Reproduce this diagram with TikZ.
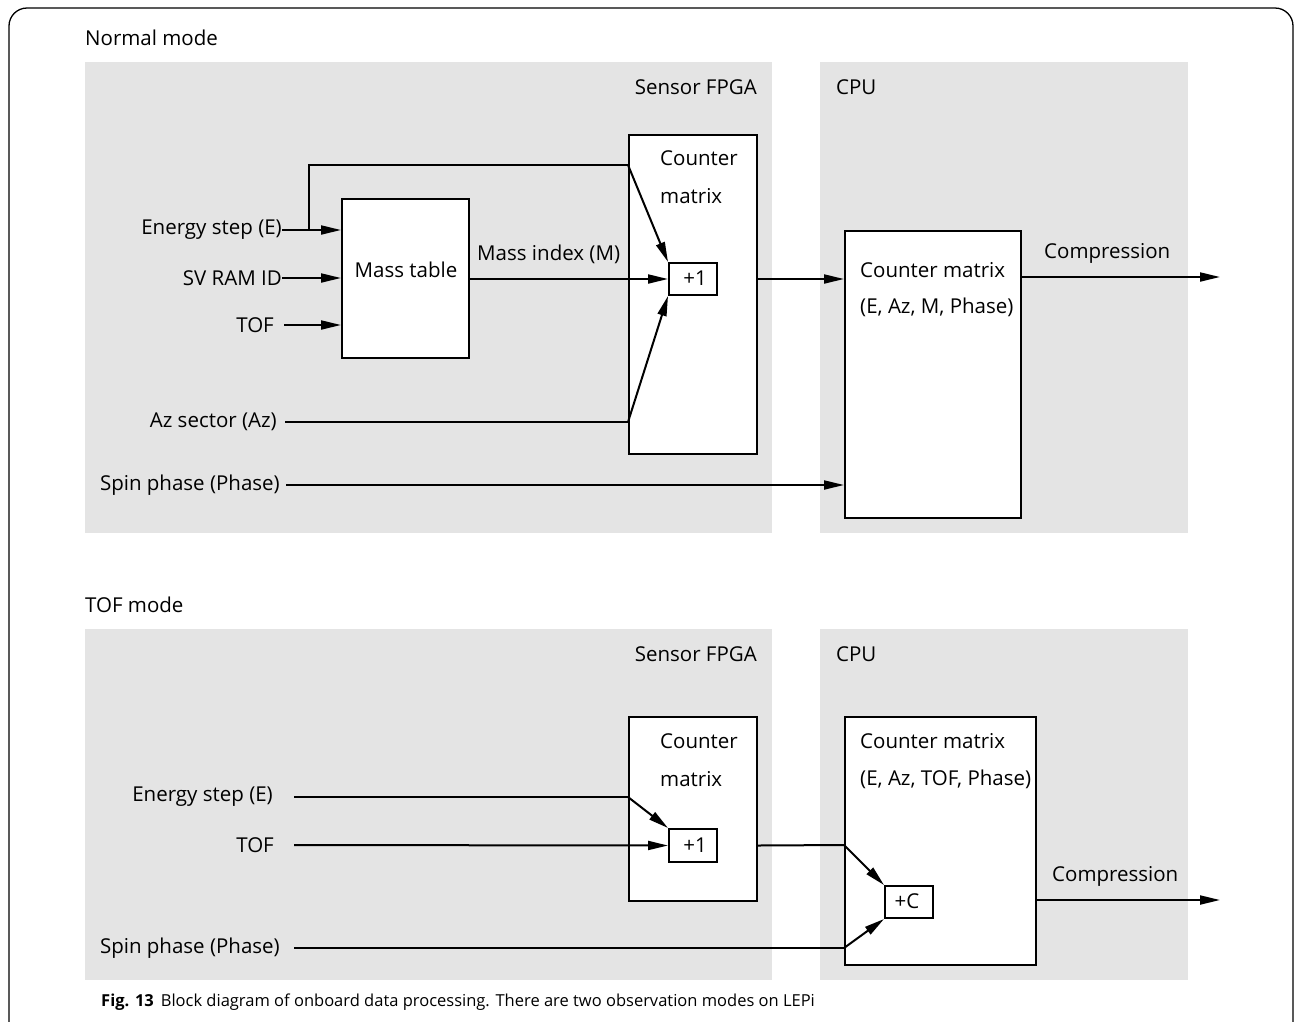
\documentclass[tikz,border=0pt]{standalone}
\usepackage{fontspec}
\setmainfont{Open Sans}
\usetikzlibrary{arrows.meta,calc}
\definecolor{panel}{HTML}{E4E4E4}
\tikzset{
  panelbox/.style={fill=panel, draw=none},
  blk/.style={draw, line width=2pt, fill=white, inner sep=0pt, anchor=north west},
  lbl/.style={inner sep=0pt, font=\fontsize{20.5}{24}\selectfont},
  lblr/.style={lbl, anchor=east},
  lbll/.style={lbl, anchor=west},
  conn/.style={line width=2pt},
  arr/.style={line width=2pt, -{Triangle[length=20pt,width=9pt]}},
}
\begin{document}
\begin{tikzpicture}[x=1pt,y=-1pt]
\useasboundingbox (0,0) rectangle (1295,1021);
\clip (0,0) rectangle (1295,1021);
\draw[line width=1.3pt, rounded corners=18pt] (9,8) rectangle (1293,1045);
% panels
\fill[panel] (85,62) rectangle (772,533);
\fill[panel] (820,62) rectangle (1188,533);
\fill[panel] (85,629) rectangle (772,980);
\fill[panel] (820,629) rectangle (1188,980);
% titles
\node[lbll] (tnorm) at (85,38) {Normal mode};
\node[lbll] (ttof) at (85,605) {TOF mode};
\node[lblr] (fpga1) at (757,87) {Sensor FPGA};
\node[lbll] (cpu1) at (836,87) {CPU};
\node[lblr] (fpga2) at (757,654) {Sensor FPGA};
\node[lbll] (cpu2) at (836,654) {CPU};
% ---------- Normal mode ----------
\node[blk, minimum width=127pt, minimum height=159pt] (mass) at (341,198) {};
\node[lbl] (masst) at (406,270) {Mass table};
\node[blk, minimum width=128pt, minimum height=319pt] (cm1) at (628,134) {};
\node[lbll] (cm1a) at (660,158) {Counter};
\node[lbll] (cm1b) at (660,196) {matrix};
\node[blk, minimum width=48pt, minimum height=32pt] (p1) at (668,262) {};
\node[lbl] (p1t) at (695,278) {+1};
\node[blk, minimum width=176pt, minimum height=287pt] (cpum1) at (844,230) {};
\node[lbll] (cpum1a) at (860,270) {Counter matrix};
\node[lbll] (cpum1b) at (860,307) {(E, Az, M, Phase)};

\node[lblr] (ie) at (282,230) {Energy step (E)};
\node[lblr] (isv) at (282,278) {SV RAM ID};
\node[lblr] (itof) at (274,325) {TOF};
\node[lblr] (iaz) at (277,422) {Az sector (Az)};
\node[lblr] (iph) at (280,485) {Spin phase (Phase)};
\node[lbl, anchor=south west] (mi) at (477,264) {Mass index (M)};
\node[lbl, anchor=south west] (comp1) at (1044,264) {Compression};

\coordinate (eb) at (309,230);
\draw[arr] (ie.east) -- (mass.west |- ie.east);
\draw[conn] (eb) -- (309,165) -- (628,165);
\draw[arr] (628,165) -- (p1.north west);
\draw[arr] (isv.east) -- (mass.west |- isv.east);
\draw[arr] ($(itof.east)+(10,0)$) -- (mass.west |- itof.east);
\draw[arr] (mass.east |- p1.west) -- (p1.west);
\draw[conn] ($(iaz.east)+(8,0)$) -- (628,422);
\draw[arr] (628,422) -- (p1.south west);
\draw[arr] (cm1.east |- p1.east) -- (cpum1.west |- p1.east);
\draw[arr] ($(iph.east)+(6,0)$) -- (cpum1.west |- iph.east);
\coordinate (out1) at (1220,277);
\draw[arr] (cpum1.east |- out1) -- (out1);
% ---------- TOF mode ----------
\node[blk, minimum width=128pt, minimum height=184pt] (cm2) at (628,716) {};
\node[lbll] (cm2a) at (660,741) {Counter};
\node[lbll] (cm2b) at (660,779) {matrix};
\node[blk, minimum width=48pt, minimum height=33pt] (p2) at (668,828) {};
\node[lbl] (p2t) at (695,845) {+1};
\node[blk, minimum width=191pt, minimum height=248pt] (cpum2) at (844,716) {};
\node[lbll] (cpum2a) at (860,741) {Counter matrix};
\node[lbll] (cpum2b) at (860,779) {(E, Az, TOF, Phase)};
\node[blk, minimum width=48pt, minimum height=32pt] (pc) at (884,885) {};
\node[lbl] (pct) at (907,901) {+C};

\node[lblr] (je) at (273,797) {Energy step (E)};
\node[lblr] (jtof) at (274,845) {TOF};
\node[lblr] (jph) at (280,948) {Spin phase (Phase)};
\node[lbl, anchor=south west] (comp2) at (1052,887) {Compression};

\draw[conn] ($(je.east)+(21,0)$) -- (628,797);
\draw[arr] (628,797) -- (p2.north west);
\draw[arr] ($(jtof.east)+(20,0)$) -- (p2.west);
\draw[conn] (cm2.east |- p2.east) -- (844,845);
\draw[arr] (844,845) -- (pc.north west);
\draw[conn] ($(jph.east)+(14,0)$) -- (844,948);
\draw[arr] (844,948) -- (pc.south west);
\coordinate (out2) at (1220,900);
\draw[arr] (cpum2.east |- out2) -- (out2);
% caption
\node[inner sep=0pt, anchor=west, font=\fontsize{16.5}{20}\selectfont] (cap) at (101,1002) {\textbf{Fig. 13}\hspace{7pt}Block diagram of onboard data processing. There are two observation modes on LEPi};
\end{tikzpicture}
\end{document}
